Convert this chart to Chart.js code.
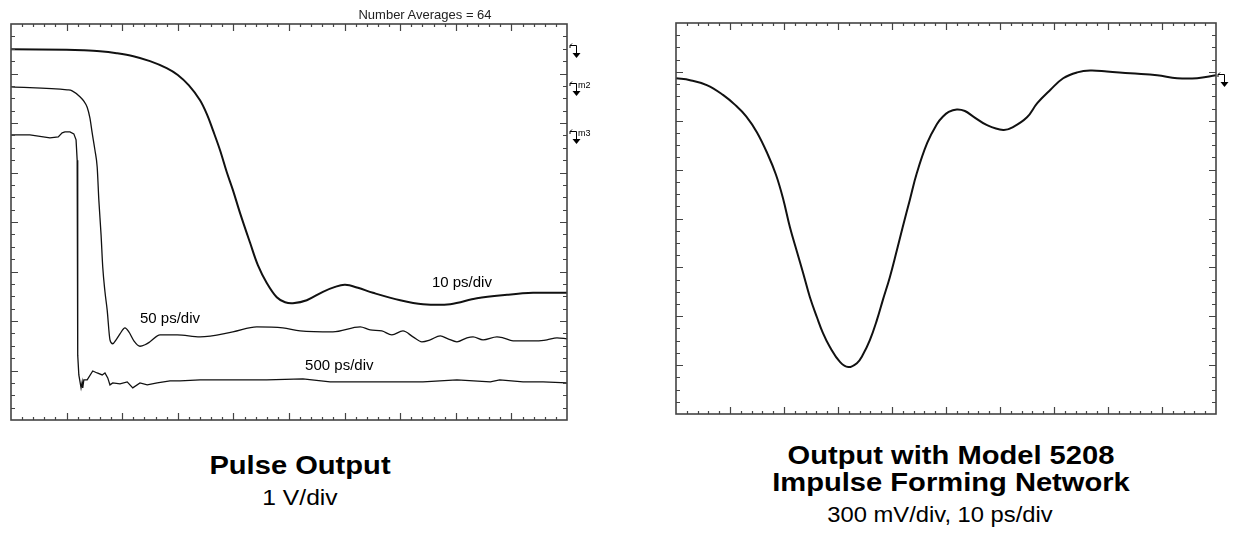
<!DOCTYPE html>
<html>
<head>
<meta charset="utf-8">
<script src="https://cdn.jsdelivr.net/npm/chart.js@4.4.1/dist/chart.umd.min.js"></script>
<style>
body { margin: 0; background: #fff; width: 1235px; height: 543px; overflow: hidden; position: relative; font-family: "Liberation Sans", Arial, sans-serif; }
canvas { position: absolute; top: 0; }
#pulseChart { left: 0; }
#ifnChart { left: 630px; }
.cap { position: absolute; width: 500px; text-align: center; color: #000; white-space: nowrap; transform: scaleX(1.12); }
.bold { font-weight: bold; font-size: 26px; line-height: 26px; }
.thin { font-size: 22px; line-height: 22px; }
#avg { position: absolute; left: 300px; top: 8px; width: 250px; text-align: center; font-size: 13px; line-height: 13px; color: #222; }
</style>
</head>
<body>
<canvas id="pulseChart" width="620" height="430"></canvas>
<canvas id="ifnChart" width="605" height="430"></canvas>
<div id="avg">Number Averages = 64</div>
<div class="cap bold" style="left:50px; top:452px;">Pulse Output</div>
<div class="cap thin" style="left:50px; top:487px;">1 V/div</div>
<div class="cap bold" style="left:701px; top:442px;">Output with Model 5208</div>
<div class="cap bold" style="left:701px; top:469px;">Impulse Forming Network</div>
<div class="cap thin" style="left:690px; top:504px; transform:scaleX(1.08);">300 mV/div, 10 ps/div</div>
<script>
// screen is 10 x 8 divisions, values read in divisions (x from left, y from bottom)
var xDivs = 10, yDivs = 8;
var xMinorPerDiv = 5, yMinorPerDiv = 4;

// 10 ps/div trace
var trace10X = [0, 1.0, 1.3, 1.6, 1.9, 2.2, 2.5, 2.8, 3.0, 3.2, 3.4, 3.53, 3.63, 3.76, 3.88, 3.99, 4.12, 4.3, 4.44, 4.6, 4.78, 4.93, 5.07, 5.32, 5.61, 5.83, 6.01, 6.24, 6.51, 7.0, 7.41, 7.9, 8.38, 8.92, 9.39, 10];
var trace10Y = [7.49, 7.48, 7.47, 7.45, 7.41, 7.35, 7.25, 7.11, 6.97, 6.76, 6.46, 6.16, 5.86, 5.45, 5.01, 4.65, 4.18, 3.58, 3.13, 2.77, 2.48, 2.38, 2.36, 2.42, 2.59, 2.69, 2.73, 2.67, 2.57, 2.42, 2.34, 2.34, 2.46, 2.53, 2.57, 2.57];

// 50 ps/div trace
var trace50X = [0, 1.01, 1.10, 1.24, 1.31, 1.37, 1.42, 1.46, 1.51, 1.55, 1.58, 1.62, 1.65, 1.69, 1.73, 1.78, 1.83, 1.89, 1.96, 2.05, 2.12, 2.21, 2.32, 2.41, 2.5, 2.68, 2.99, 3.4, 3.99, 4.42, 4.89, 5.2, 5.79, 6.28, 6.46, 6.67, 6.85, 7.05, 7.23, 7.39, 7.54, 7.72, 7.86, 8.02, 8.2, 8.31, 8.49, 8.74, 8.85, 9.03, 9.21, 9.46, 9.64, 9.82, 10];
var trace50Y = [6.73, 6.67, 6.65, 6.53, 6.44, 6.32, 6.10, 5.80, 5.45, 5.11, 4.44, 3.74, 3.09, 2.59, 2.22, 1.62, 1.54, 1.62, 1.74, 1.86, 1.78, 1.60, 1.49, 1.52, 1.58, 1.72, 1.72, 1.68, 1.78, 1.88, 1.86, 1.80, 1.78, 1.88, 1.82, 1.80, 1.72, 1.80, 1.68, 1.58, 1.62, 1.70, 1.64, 1.58, 1.66, 1.68, 1.62, 1.68, 1.66, 1.60, 1.60, 1.60, 1.62, 1.66, 1.64];

// 500 ps/div trace
var trace500X = [0, 0.34, 0.7, 0.85, 0.92, 0.97, 1.06, 1.13, 1.17, 1.19, 1.20, 1.22, 1.26, 1.28, 1.29, 1.31, 1.37, 1.47, 1.55, 1.64, 1.69, 1.74, 1.78, 1.83, 1.96, 2.09, 2.19, 2.32, 2.45, 2.63, 2.86, 3.04, 3.4, 3.99, 4.6, 5.25, 5.74, 6.51, 7.41, 8.02, 8.62, 8.79, 9.21, 9.57, 10];
var trace500Y = [5.76, 5.76, 5.70, 5.72, 5.80, 5.82, 5.82, 5.78, 5.66, 5.25, 1.31, 0.91, 0.65, 0.77, 0.65, 0.81, 0.81, 0.99, 0.95, 0.91, 0.95, 0.85, 0.71, 0.75, 0.73, 0.77, 0.65, 0.75, 0.71, 0.75, 0.79, 0.79, 0.81, 0.81, 0.81, 0.83, 0.77, 0.77, 0.77, 0.81, 0.77, 0.81, 0.77, 0.77, 0.75];

// impulse forming network output
var ifnX = [0, 0.26, 0.57, 0.87, 1.1, 1.3, 1.5, 1.7, 1.85, 1.98, 2.11, 2.24, 2.35, 2.48, 2.61, 2.72, 2.85, 3.04, 3.19, 3.35, 3.46, 3.59, 3.72, 3.83, 3.96, 4.09, 4.20, 4.33, 4.46, 4.65, 4.83, 4.94, 5.05, 5.2, 5.35, 5.5, 5.76, 6.06, 6.24, 6.5, 6.69, 6.93, 7.17, 7.43, 7.67, 7.98, 8.41, 8.91, 9.28, 9.65, 10];
var ifnY = [6.87, 6.83, 6.73, 6.53, 6.32, 6.09, 5.76, 5.31, 4.90, 4.42, 3.82, 3.32, 2.90, 2.39, 1.98, 1.66, 1.37, 1.06, 0.96, 1.04, 1.21, 1.51, 1.92, 2.33, 2.80, 3.35, 3.83, 4.38, 4.93, 5.54, 5.93, 6.08, 6.18, 6.23, 6.20, 6.09, 5.91, 5.81, 5.87, 6.07, 6.36, 6.63, 6.87, 6.99, 7.03, 7.01, 6.97, 6.93, 6.87, 6.87, 6.93];

// trace labels on the pulse screen
var labelText = ['10 ps/div', '50 ps/div', '500 ps/div'];
var labelX = [7.57, 2.32, 5.29];
var labelY = [2.69, 1.96, 1.01];

// ground reference markers at right edge
var pulseMarkerLevels = [7.49, 6.73, 5.76];
var pulseMarkerNames = ['', 'm2', 'm3'];
var ifnMarkerLevels = [6.87];
var ifnMarkerNames = [''];

function toPoints(xs, ys) {
    var pts = [];
    for (var i = 0; i < xs.length; i++) {
        pts.push({ x: xs[i], y: ys[i] });
    }
    return pts;
}

// frame, inward ticks, labels and ref markers
var scopePlugin = {
    id: 'scope',
    afterDraw: function (chart, args, opts) {
        var ctx = chart.ctx, a = chart.chartArea;
        var xs = chart.scales.x, ys = chart.scales.y;
        ctx.save();
        ctx.strokeStyle = '#444';
        ctx.lineWidth = 1.2;
        ctx.beginPath();
        var nx = xDivs * xMinorPerDiv;
        for (var i = 1; i < nx; i++) {
            var px = Math.round(xs.getPixelForValue(i / xMinorPerDiv)) + 0.5;
            var len = (i % xMinorPerDiv === 0) ? 7 : 3;
            ctx.moveTo(px, a.top); ctx.lineTo(px, a.top + len);
            ctx.moveTo(px, a.bottom); ctx.lineTo(px, a.bottom - len);
        }
        var ny = yDivs * yMinorPerDiv;
        for (var j = 1; j < ny; j++) {
            var py = Math.round(ys.getPixelForValue(j / yMinorPerDiv)) + 0.5;
            var len2 = (j % yMinorPerDiv === 0) ? 7 : 4;
            ctx.moveTo(a.left, py); ctx.lineTo(a.left + len2, py);
            ctx.moveTo(a.right, py); ctx.lineTo(a.right - len2, py);
        }
        ctx.stroke();
        ctx.lineWidth = 1.6;
        ctx.strokeRect(a.left, a.top, a.right - a.left, a.bottom - a.top);

        // labels
        if (opts.labels) {
            ctx.fillStyle = '#000';
            ctx.font = '15px "Liberation Sans", Arial, sans-serif';
            ctx.textBaseline = 'alphabetic';
            for (var k = 0; k < labelText.length; k++) {
                ctx.fillText(labelText[k], xs.getPixelForValue(labelX[k]), ys.getPixelForValue(labelY[k]));
            }
        }

        // markers
        var levels = opts.levels, names = opts.names;
        ctx.strokeStyle = '#000';
        ctx.fillStyle = '#000';
        ctx.lineWidth = 1;
        ctx.font = '9px "Liberation Sans", Arial, sans-serif';
        for (var m = 0; m < levels.length; m++) {
            var x0 = a.right + opts.gap;
            var y0 = Math.round(ys.getPixelForValue(levels[m]));
            ctx.beginPath();
            ctx.moveTo(x0 + 1, y0 - 3.5); ctx.lineTo(x0 + 7.5, y0 - 3.5);
            ctx.lineTo(x0 + 7.5, y0 + 5);
            ctx.moveTo(x0 + 1, y0 - 3.5); ctx.lineTo(x0 + 3, y0 - 5.5);
            ctx.moveTo(x0 + 1, y0 - 3.5); ctx.lineTo(x0 + 1, y0 - 1);
            ctx.stroke();
            ctx.beginPath();
            ctx.moveTo(x0 + 3.5, y0 + 4); ctx.lineTo(x0 + 11.5, y0 + 4); ctx.lineTo(x0 + 7.5, y0 + 9);
            ctx.closePath();
            ctx.fill();
            if (names[m]) ctx.fillText(names[m], x0 + 9, y0 + 1);
        }
        ctx.restore();
    }
};

function scopeScales() {
    return {
        x: { type: 'linear', min: 0, max: xDivs, display: false },
        y: { type: 'linear', min: 0, max: yDivs, display: false }
    };
}

function trace(points, width, tension, mono) {
    return {
        data: points,
        borderColor: '#111',
        borderWidth: width,
        pointRadius: 0,
        fill: false,
        tension: tension,
        cubicInterpolationMode: mono ? 'monotone' : 'default'
    };
}

var pulseChart = new Chart(document.getElementById('pulseChart').getContext('2d'), {
    type: 'line',
    data: {
        datasets: [
            trace(toPoints(trace10X, trace10Y), 2, 0.35, false),
            trace(toPoints(trace50X, trace50Y), 1.3, 0, true),
            trace(toPoints(trace500X, trace500Y), 1.3, 0, false)
        ]
    },
    options: {
        responsive: false,
        devicePixelRatio: 1,
        animation: false,
        layout: { padding: { left: 11, top: 24, right: 53, bottom: 10 } },
        scales: scopeScales(),
        plugins: {
            legend: { display: false },
            tooltip: { enabled: false },
            scope: { labels: true, levels: pulseMarkerLevels, names: pulseMarkerNames, gap: 2 }
        }
    },
    plugins: [scopePlugin]
});

var ifnChart = new Chart(document.getElementById('ifnChart').getContext('2d'), {
    type: 'line',
    data: {
        datasets: [
            trace(toPoints(ifnX, ifnY), 2, 0.4, false)
        ]
    },
    options: {
        responsive: false,
        devicePixelRatio: 1,
        animation: false,
        layout: { padding: { left: 46, top: 23, right: 19, bottom: 16 } },
        scales: scopeScales(),
        plugins: {
            legend: { display: false },
            tooltip: { enabled: false },
            scope: { labels: false, levels: ifnMarkerLevels, names: ifnMarkerNames, gap: 1 }
        }
    },
    plugins: [scopePlugin]
});
</script>
</body>
</html>
